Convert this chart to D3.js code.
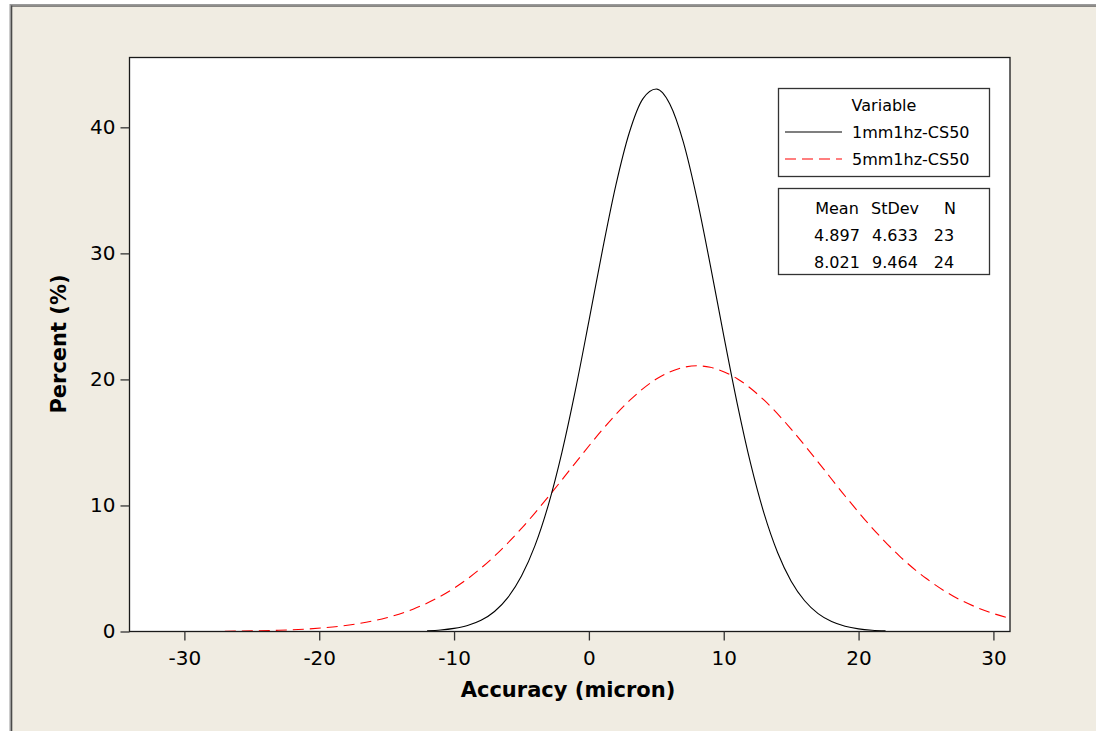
<!DOCTYPE html>
<html>
<head>
<meta charset="utf-8">
<script src="https://cdn.jsdelivr.net/npm/d3@7/dist/d3.min.js"></script>
<style>
  html, body { margin: 0; padding: 0; background: #ffffff; }
  svg { display: block; }
  text { font-family: "DejaVu Sans", Verdana, sans-serif; fill: #000; }
</style>
</head>
<body>
<svg id="chart" width="1096" height="731"></svg>
<script>
// ---- Data ----
const xTicks = [-30, -20, -10, 0, 10, 20, 30];
const yTicks = [0, 10, 20, 30, 40];

const seriesNames = ["1mm1hz-CS50", "5mm1hz-CS50"];
const statMeans = ["4.897", "8.021"];
const statStDevs = ["4.633", "9.464"];
const statNs = ["23", "24"];

// 1mm1hz-CS50 curve (x, percent)
const blackX = [-12, -11, -10, -9, -8, -7, -6, -5, -4, -3, -2, -1, 0, 1, 2, 3, 4, 5, 6, 7, 8, 9, 10, 11, 12, 13, 14, 15, 16, 17, 18, 19, 20, 21, 22];
const blackY = [0.06, 0.12, 0.25, 0.48, 0.89, 1.59, 2.71, 4.40, 6.81, 10.07, 14.22, 19.15, 24.63, 30.22, 35.41, 39.59, 42.26, 43.04, 41.85, 38.84, 34.40, 29.09, 23.47, 18.08, 13.29, 9.33, 6.25, 3.99, 2.44, 1.42, 0.79, 0.42, 0.21, 0.10, 0.05];

// 5mm1hz-CS50 curve (x, percent)
const redX = [-27, -25, -23, -21, -19, -17, -15, -13, -11, -9, -7, -5, -3, -1, 1, 3, 5, 7, 8, 9, 11, 13, 15, 17, 19, 21, 23, 25, 27, 29, 31, 33];
const redY = [0.02, 0.05, 0.10, 0.19, 0.36, 0.64, 1.09, 1.79, 2.80, 4.18, 5.98, 8.18, 10.70, 13.38, 16.01, 18.31, 20.03, 20.95, 21.08, 20.96, 20.06, 18.35, 16.06, 13.44, 10.75, 8.23, 6.02, 4.22, 2.82, 1.81, 1.11, 0.65];

// ---- Layout ----
const W = 1096, H = 731;
const plot = { left: 129.5, right: 1010, top: 57.5, bottom: 631.5 };

const svg = d3.select("#chart");

// window background + frame
svg.append("rect").attr("x", 10).attr("y", 4).attr("width", W - 10).attr("height", H - 4).attr("fill", "#f0ece2");
svg.append("rect").attr("x", 10).attr("y", 4).attr("width", W - 10).attr("height", 1.5).attr("fill", "#9a9a9a");
svg.append("rect").attr("x", 10).attr("y", 5.5).attr("width", W - 10).attr("height", 1.2).attr("fill", "#5a5a5a");
svg.append("rect").attr("x", 9.5).attr("y", 4).attr("width", 1.5).attr("height", H - 4).attr("fill", "#9a9a9a");
svg.append("rect").attr("x", 11).attr("y", 5.5).attr("width", 1.3).attr("height", H - 5.5).attr("fill", "#4a4a4a");

const x = d3.scaleLinear().domain([-34.07, 31.23]).range([plot.left, plot.right]);
const y = d3.scaleLinear().domain([0, 45.54]).range([plot.bottom, plot.top]);

// plot area
svg.append("rect")
  .attr("x", plot.left).attr("y", plot.top)
  .attr("width", plot.right - plot.left).attr("height", plot.bottom - plot.top)
  .attr("fill", "#ffffff");

svg.append("clipPath").attr("id", "clip")
  .append("rect")
  .attr("x", plot.left).attr("y", plot.top)
  .attr("width", plot.right - plot.left).attr("height", plot.bottom - plot.top);

const line = d3.line().x(d => x(d[0])).y(d => y(d[1])).curve(d3.curveMonotoneX);

const gLines = svg.append("g").attr("clip-path", "url(#clip)");
gLines.append("path")
  .datum(redX.map((v, i) => [v, redY[i]]))
  .attr("d", line)
  .attr("fill", "none").attr("stroke", "#ff0000").attr("stroke-width", 1.1)
  .attr("stroke-dasharray", "11,6");
gLines.append("path")
  .datum(blackX.map((v, i) => [v, blackY[i]]))
  .attr("d", line)
  .attr("fill", "none").attr("stroke", "#000000").attr("stroke-width", 1.1);

// plot border
svg.append("rect")
  .attr("x", plot.left).attr("y", plot.top)
  .attr("width", plot.right - plot.left).attr("height", plot.bottom - plot.top)
  .attr("fill", "none").attr("stroke", "#1a1a1a").attr("stroke-width", 1.3);

// axes
const fmt = d => String(d);
const xAxis = d3.axisBottom(x).tickValues(xTicks).tickSize(9).tickSizeOuter(0).tickPadding(10).tickFormat(fmt);
const gx = svg.append("g").attr("transform", `translate(0,${plot.bottom})`).call(xAxis);
gx.select(".domain").remove();
gx.selectAll(".tick line").attr("stroke", "#333").attr("stroke-width", 1.3);
gx.selectAll(".tick text").style("font-family", '"DejaVu Sans", Verdana, sans-serif').style("font-size", "20px").attr("fill", "#000");

const yAxis = d3.axisLeft(y).tickValues(yTicks).tickSize(9).tickSizeOuter(0).tickPadding(5).tickFormat(fmt);
const gy = svg.append("g").attr("transform", `translate(${plot.left},0)`).call(yAxis);
gy.select(".domain").remove();
gy.selectAll(".tick line").attr("stroke", "#333").attr("stroke-width", 1.3);
gy.selectAll(".tick text").style("font-family", '"DejaVu Sans", Verdana, sans-serif').style("font-size", "20px").attr("fill", "#000");

// axis titles
svg.append("text")
  .attr("x", 568).attr("y", 697)
  .attr("text-anchor", "middle")
  .style("font-weight", "bold").style("font-size", "21px")
  .text("Accuracy (micron)");

svg.append("text")
  .attr("transform", "translate(66,344) rotate(-90)")
  .attr("text-anchor", "middle")
  .style("font-weight", "bold").style("font-size", "21px")
  .text("Percent (%)");

// legend box
const lg = svg.append("g");
lg.append("rect").attr("x", 778.5).attr("y", 88.5).attr("width", 211).attr("height", 88)
  .attr("fill", "#fff").attr("stroke", "#333").attr("stroke-width", 1.3);
lg.append("text").attr("x", 884).attr("y", 111).attr("text-anchor", "middle").style("font-size", "16px").text("Variable");
const legendStyles = [
  { stroke: "#000000", dash: null, y: 132 },
  { stroke: "#ff0000", dash: "11,6", y: 159 }
];
seriesNames.forEach((name, i) => {
  const s = legendStyles[i];
  lg.append("line").attr("x1", 785).attr("x2", 842).attr("y1", s.y).attr("y2", s.y)
    .attr("stroke", s.stroke).attr("stroke-width", 1.1)
    .attr("stroke-dasharray", s.dash);
  lg.append("text").attr("x", 852).attr("y", s.y + 6).style("font-size", "16px").text(name);
});

// stats box
const sg = svg.append("g");
sg.append("rect").attr("x", 778.5).attr("y", 188.5).attr("width", 211).attr("height", 86)
  .attr("fill", "#fff").attr("stroke", "#333").attr("stroke-width", 1.3);
const headCols = [837, 895, 950];
const valCols = [837, 895, 944];
const headers = ["Mean", "StDev", "N"];
headers.forEach((h, j) => {
  sg.append("text").attr("x", headCols[j]).attr("y", 214).attr("text-anchor", "middle").style("font-size", "16px").text(h);
});
[statMeans, statStDevs, statNs].forEach((col, j) => {
  col.forEach((v, i) => {
    sg.append("text").attr("x", valCols[j]).attr("y", 241 + i * 26.5).attr("text-anchor", "middle").style("font-size", "16px").text(v);
  });
});
</script>
</body>
</html>
